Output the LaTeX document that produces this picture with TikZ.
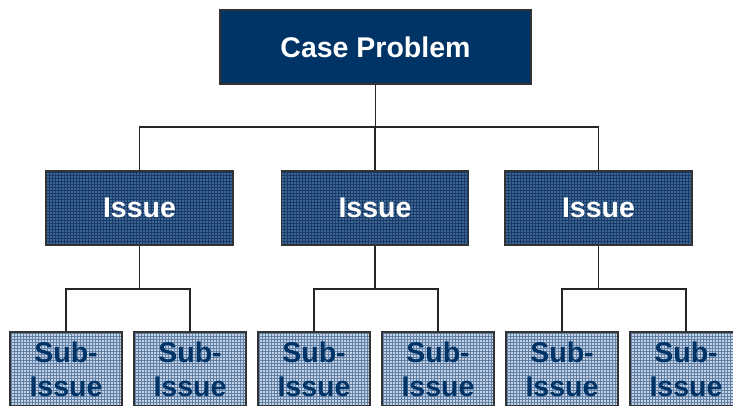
\documentclass[tikz,border=0pt]{standalone}
\usepackage{fontspec}
\setmainfont{Liberation Sans}
\definecolor{navy}{RGB}{0,51,102}
\definecolor{issuebase}{RGB}{62,102,148}
\definecolor{issueline}{RGB}{24,58,102}
\definecolor{subbase}{RGB}{196,210,228}
\definecolor{subline}{RGB}{96,128,168}
\definecolor{edge}{RGB}{51,51,51}
\tikzset{
  gridfill/.style 2 args={fill=#1, path picture={
      \draw[#2, line width=0.7pt, step=3pt]
        (path picture bounding box.south west) grid (path picture bounding box.north east);}},
  casebox/.style={draw=edge, line width=1.5pt, fill=navy, text=white,
      minimum width=311pt, minimum height=74pt, inner sep=0pt,
      font=\bfseries\fontsize{28.5}{34}\selectfont},
  issuebox/.style={draw=edge, line width=1.5pt, gridfill={issuebase}{issueline}, text=white,
      minimum width=187pt, minimum height=74pt, inner sep=0pt,
      font=\bfseries\fontsize{28.5}{34}\selectfont},
  subbox/.style={draw=edge, line width=1.5pt, gridfill={subbase}{subline}, text=navy,
      minimum width=112pt, minimum height=74pt, inner sep=0pt, align=center,
      font=\bfseries\fontsize{28.5}{34}\selectfont},
  link/.style={draw=black!85, line width=1.3pt}
}
\begin{document}
\begin{tikzpicture}[x=1pt, y=-1pt]
  \useasboundingbox (0,0) rectangle (733,405);
  \clip (0,0) rectangle (733,405);

  % top level
  \node[casebox] (case) at (375.5,47) {Case Problem};

  % issues
  \node[issuebox] (i1) at (139.5,208) {Issue};
  \node[issuebox] (i2) at (375,208) {Issue};
  \node[issuebox] (i3) at (598.5,208) {Issue};

  % sub-issues
  \node[subbox] (s1) at (66,369)  {Sub-\\Issue};
  \node[subbox] (s2) at (190,369) {Sub-\\Issue};
  \node[subbox] (s3) at (314,369) {Sub-\\Issue};
  \node[subbox] (s4) at (438,369) {Sub-\\Issue};
  \node[subbox] (s5) at (562,369) {Sub-\\Issue};
  \node[subbox] (s6) at (686,369) {Sub-\\Issue};

  % bus lines
  \coordinate (b0) at (375.5,127);
  \coordinate (bl) at (0,289);

  \draw[link] (case.south) -- (b0);
  \draw[link] (i1.north) -- (i1.north |- b0) -- (i3.north |- b0) -- (i3.north);
  \draw[link] (i2.north) -- (i2.north |- b0);

  \draw[link] (i1.south) -- (i1.south |- bl);
  \draw[link] (s1.north) -- (s1.north |- bl) -- (s2.north |- bl) -- (s2.north);
  \draw[link] (i2.south) -- (i2.south |- bl);
  \draw[link] (s3.north) -- (s3.north |- bl) -- (s4.north |- bl) -- (s4.north);
  \draw[link] (i3.south) -- (i3.south |- bl);
  \draw[link] (s5.north) -- (s5.north |- bl) -- (s6.north |- bl) -- (s6.north);
\end{tikzpicture}
\end{document}
